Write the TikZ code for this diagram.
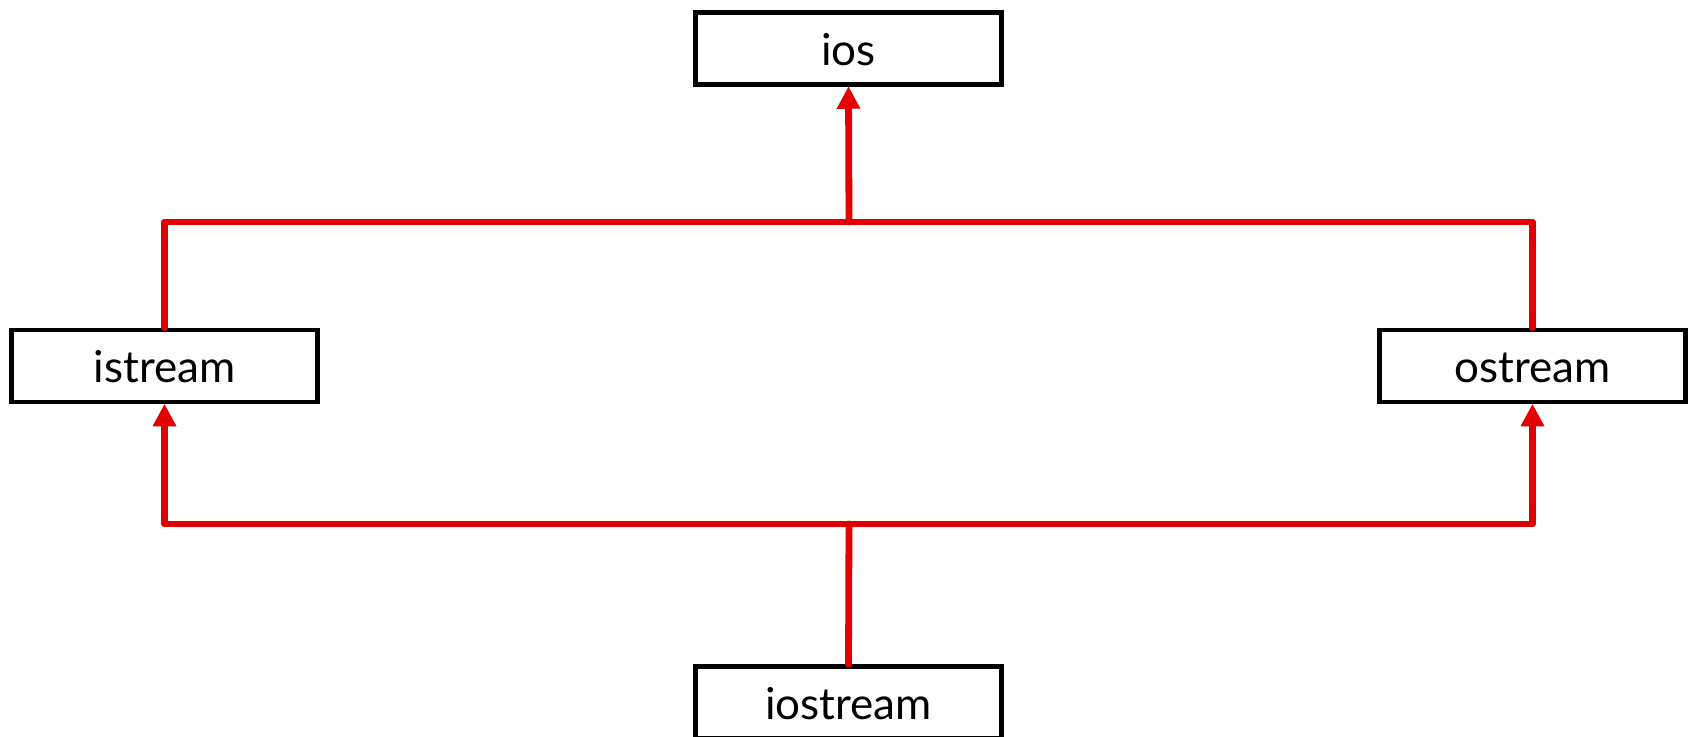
\documentclass[tikz,border=0pt]{standalone}
\usepackage{fontspec}
\setmainfont{Lato}
\usetikzlibrary{arrows.meta}
\definecolor{linkred}{RGB}{228,0,0}
\tikzset{
  cls/.style={draw=black, line width=2.25pt, fill=white, minimum width=153pt, minimum height=36pt, inner sep=0pt, font=\fontsize{22pt}{26pt}\selectfont, text height=18pt, text depth=1.5pt},
  link/.style={draw=linkred, line width=3.4pt, line cap=round, line join=round},
  inh/.style={link, -{Triangle[length=11pt,width=12pt,line width=0pt]}}
}
\begin{document}
\begin{tikzpicture}[x=0.5pt,y=-0.5pt]
\useasboundingbox (0,0) rectangle (1693,736);
\node[cls] (ios) at (848.5,48.5) {ios};
\node[cls] (istream) at (164.5,366) {istream};
\node[cls] (ostream) at (1532.5,366) {ostream};
\node[cls] (iostream) at (848.5,702.5) {iostream};
\coordinate (topj) at (849,222);
\coordinate (botj) at (849,524);
% upper hierarchy
\draw[link] (istream.north) |- (topj) -| (ostream.north);
\draw[inh] (topj) -- (ios.south);
% lower hierarchy
\draw[link] (iostream.north) -- (botj);
\draw[inh] (botj) -| (istream.south);
\draw[inh] (botj) -| (ostream.south);
\end{tikzpicture}
\end{document}
